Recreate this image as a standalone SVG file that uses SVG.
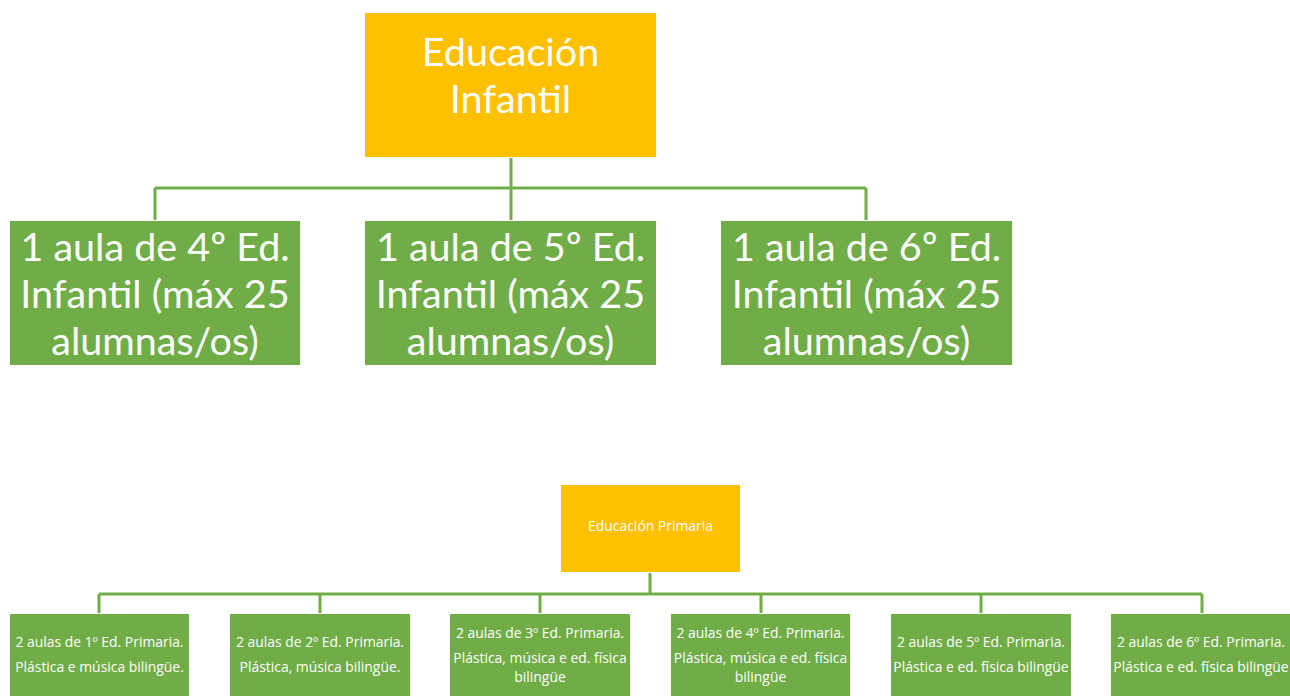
<svg xmlns="http://www.w3.org/2000/svg" width="1290" height="696" viewBox="0 0 1290 696">
<style>
.y{fill:#FFC000}
.g{fill:#70AD47}
.c{stroke:#70AD47;stroke-width:3;fill:none}
.t{fill:#fff;font-family:Lato,"Open Sans",sans-serif;text-anchor:middle}
.big{font-size:39.5px}
.sm{font-family:"Open Sans",Lato,sans-serif;font-size:13.9px}
</style>
<rect width="1290" height="696" fill="#fff"/>
<g id="connectors">
<path class="c" d="M511 158V188M155 188H866M155 188V220M511 188V220M866 188V220"/>
<path class="c" d="M650 573V594M99 594H1202M99 594V613M320 594V613M540 594V613M761 594V613M981 594V613M1202 594V613"/>
</g>
<g id="n_infantil"><rect class="y" x="365" y="13" width="291" height="144"/>
<text class="t big" x="510.5" y="66">Educación</text><text class="t big" x="510.5" y="113">Infantil</text></g>
<g id="n_i4"><rect class="g" x="10" y="221" width="290" height="144"/>
<text class="t big" x="155" y="261">1 aula de 4º Ed.</text><text class="t big" x="155" y="308">Infantil (máx 25</text><text class="t big" x="155" y="355">alumnas/os)</text></g>
<g id="n_i5"><rect class="g" x="365" y="221" width="291" height="144"/>
<text class="t big" x="510.5" y="261">1 aula de 5º Ed.</text><text class="t big" x="510.5" y="308">Infantil (máx 25</text><text class="t big" x="510.5" y="355">alumnas/os)</text></g>
<g id="n_i6"><rect class="g" x="721" y="221" width="291" height="144"/>
<text class="t big" x="866.5" y="261">1 aula de 6º Ed.</text><text class="t big" x="866.5" y="308">Infantil (máx 25</text><text class="t big" x="866.5" y="355">alumnas/os)</text></g>
<g id="n_primaria"><rect class="y" x="561" y="485" width="179" height="87"/>
<text class="t sm" x="650.5" y="531">Educación Primaria</text></g>
<g id="n_p1"><rect class="g" x="10" y="614" width="179" height="88"/>
<text class="t sm" x="99.5" y="647">2 aulas de 1º Ed. Primaria.</text><text class="t sm" x="99.5" y="672">Plástica e música bilingüe.</text></g>
<g id="n_p2"><rect class="g" x="230" y="614" width="180" height="88"/>
<text class="t sm" x="320" y="647">2 aulas de 2º Ed. Primaria.</text><text class="t sm" x="320" y="672">Plástica, música bilingüe.</text></g>
<g id="n_p3"><rect class="g" x="450" y="614" width="180" height="88"/>
<text class="t sm" x="540" y="638">2 aulas de 3º Ed. Primaria.</text><text class="t sm" x="540" y="663">Plástica, música e ed. física</text><text class="t sm" x="540" y="682">bilingüe</text></g>
<g id="n_p4"><rect class="g" x="671" y="614" width="179" height="88"/>
<text class="t sm" x="760.5" y="638">2 aulas de 4º Ed. Primaria.</text><text class="t sm" x="760.5" y="663">Plástica, música e ed. física</text><text class="t sm" x="760.5" y="682">bilingüe</text></g>
<g id="n_p5"><rect class="g" x="891" y="614" width="180" height="88"/>
<text class="t sm" x="981" y="647">2 aulas de 5º Ed. Primaria.</text><text class="t sm" x="981" y="672">Plástica e ed. física bilingüe</text></g>
<g id="n_p6"><rect class="g" x="1111" y="614" width="179" height="88"/>
<text class="t sm" x="1201" y="647">2 aulas de 6º Ed. Primaria.</text><text class="t sm" x="1201" y="672">Plástica e ed. física bilingüe</text></g>
</svg>
